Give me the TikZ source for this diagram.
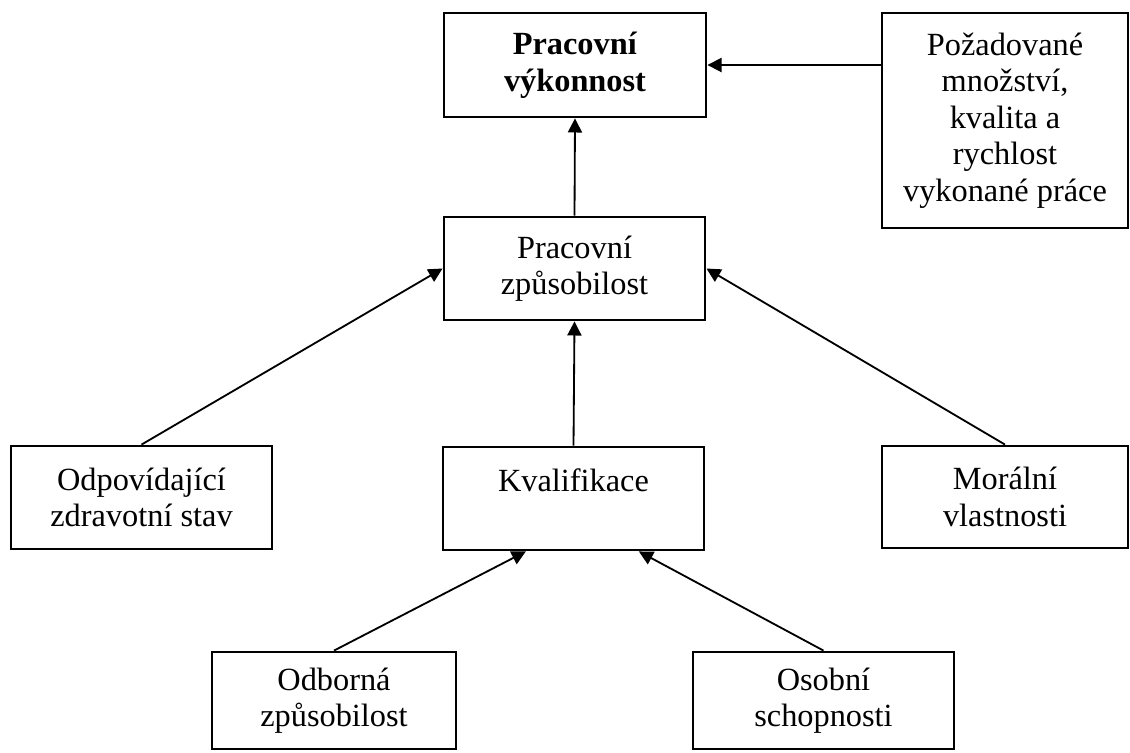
\documentclass[tikz,border=0pt]{standalone}
\usepackage{fontspec}
\setmainfont{Liberation Serif}
\usetikzlibrary{arrows.meta}

\begin{document}
\begin{tikzpicture}[x=0.025cm, y=-0.025cm,
    >={Triangle[length=10pt, width=10pt]},
    box/.style={draw, line width=2pt, align=center, inner sep=0pt,
        font=\fontsize{23}{26}\selectfont},
    line/.style={line width=1.3pt}]

    \useasboundingbox (0,0) rectangle (1130,752);

    \node[box, minimum width=6.55cm, minimum height=2.6cm] (vyk) at (575,65)
        {\textbf{Pracovní}\\ \textbf{výkonnost}};
    \node[box, minimum width=6.15cm, minimum height=5.375cm] (poz) at (1005,120.5)
        {Požadované\\ množství,\\ kvalita a\\ rychlost\\ vykonané práce};
    \node[box, minimum width=6.525cm, minimum height=2.575cm] (zpu) at (574.5,268.5)
        {Pracovní\\ způsobilost};
    \node[box, minimum width=6.525cm, minimum height=2.575cm] (zdr) at (141.5,497.5)
        {Odpovídající\\ zdravotní stav};
    \node[box, minimum width=6.525cm, minimum height=2.575cm] (kva) at (573.5,498.5)
        {Kvalifikace\\ \mbox{}};
    \node[box, minimum width=6.15cm, minimum height=2.55cm] (mor) at (1005,497)
        {Morální\\ vlastnosti};
    \node[box, minimum width=6.1cm, minimum height=2.425cm] (odb) at (334,700.5)
        {Odborná\\ způsobilost};
    \node[box, minimum width=6.525cm, minimum height=2.425cm] (oso) at (823.5,700.5)
        {Osobní\\ schopnosti};

    \draw[line, <-] (vyk.east) -- (poz.west |- vyk.east);
    \draw[line, <-] (vyk.south) -- (zpu.north);
    \draw[line, <-] (zpu.west) -- (zdr.north);
    \draw[line, <-] (zpu.east) -- (mor.north);
    \draw[line, <-] (zpu.south) -- (kva.north);
    \draw[line, <-] (kva.228) -- (odb.north);
    \draw[line, <-] (kva.321) -- (oso.north);

\end{tikzpicture}
\end{document}
